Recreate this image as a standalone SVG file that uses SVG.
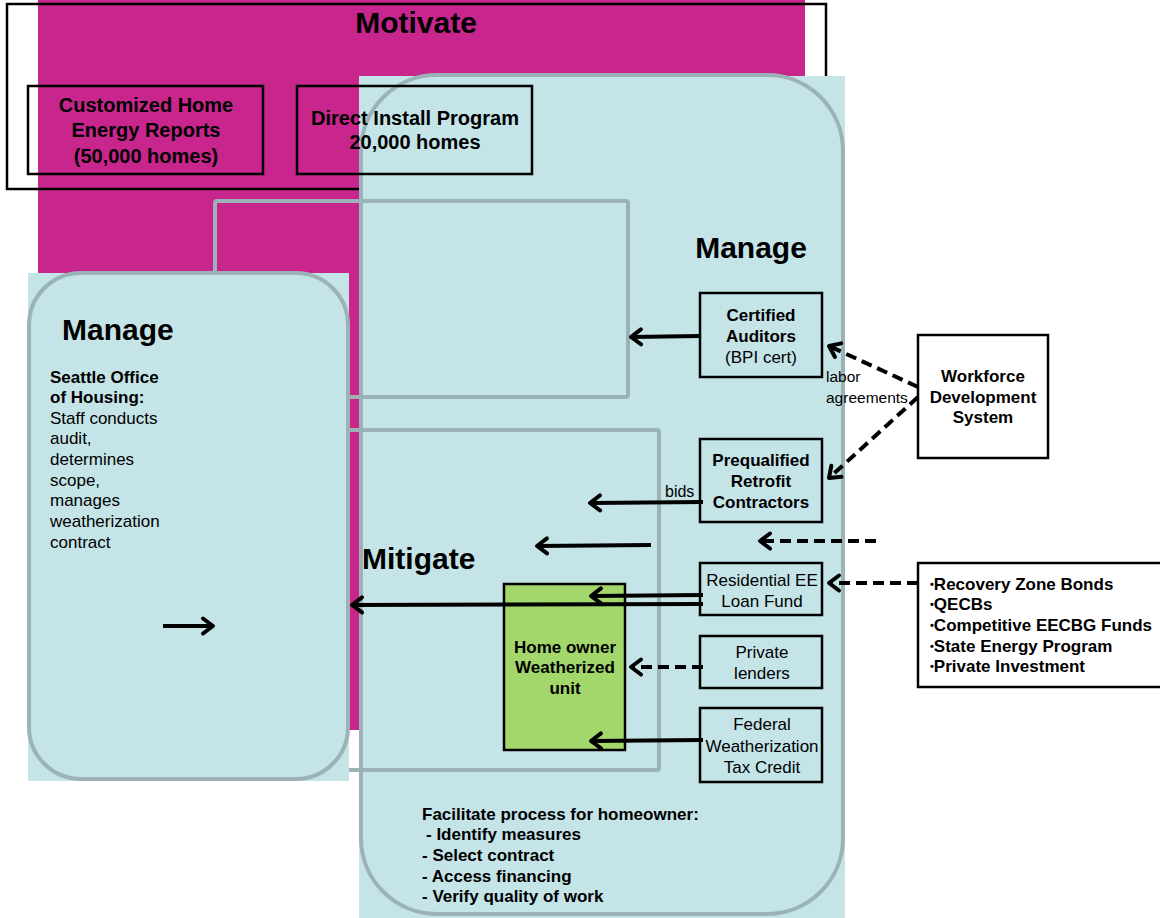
<svg xmlns="http://www.w3.org/2000/svg" width="1160" height="918" viewBox="0 0 1160 918">
<defs>
<style>
.t{font-family:"Liberation Sans",Arial,sans-serif;fill:#000;font-size:17px}
.b{font-weight:bold}
.m{text-anchor:middle}
.h{font-size:30px;font-weight:bold}
.box{stroke:#000;stroke-width:2.5}
.lb{fill:#C4E4E7}
.pb{fill:none;stroke:#9BB3B7;stroke-width:4}
.arr{stroke:#000;stroke-width:4;fill:none;marker-end:url(#ah)}
.dash{stroke-dasharray:11 6}
.bu{font-size:11px}
</style>
<marker id="ah" markerUnits="userSpaceOnUse" viewBox="-14 -11 16 22" markerWidth="16" markerHeight="22" refX="0" refY="0" orient="auto" overflow="visible">
<path d="M-10 -7.5 L0 0 L-10 7.5" fill="none" stroke="#000" stroke-width="4" stroke-linecap="round" stroke-linejoin="round"/>
</marker>
</defs>

<g id="background">
<rect x="38" y="0" width="767" height="730" fill="#C8268C"/>
</g>

<g id="motivate">
<rect x="7" y="4" width="819" height="185" fill="none" class="box"/>
<text class="t h m" x="416" y="33">Motivate</text>
</g>

<g id="panel-right">
<rect x="359" y="76" width="486" height="842" class="lb"/>
<rect x="361" y="75" width="482" height="839" rx="76" class="pb"/>
</g>

<g id="manage-area">
<rect x="215" y="201" width="413" height="196" rx="2" class="pb"/>
<text class="t h m" x="751" y="258">Manage</text>
</g>

<g id="mitigate-area">
<rect x="215" y="430" width="444" height="340" rx="2" class="pb"/>
<text class="t h" x="362" y="569">Mitigate</text>
</g>

<g id="customized-reports">
<rect x="28" y="86" width="235" height="88" fill="none" class="box"/>
<text class="t b m" style="font-size:20px" x="146" y="112">Customized Home</text>
<text class="t b m" style="font-size:20px" x="146" y="137">Energy Reports</text>
<text class="t b m" style="font-size:20px" x="146" y="163">(50,000 homes)</text>
</g>

<g id="direct-install">
<rect x="297" y="86" width="235" height="88" fill="none" class="box"/>
<text class="t b m" style="font-size:20px" x="415" y="125">Direct Install Program</text>
<text class="t b m" style="font-size:20px" x="415" y="149">20,000 homes</text>
</g>

<g id="panel-left">
<rect x="28" y="273" width="321" height="508" class="lb"/>
<rect x="29" y="273" width="319" height="506" rx="52" class="pb"/>
<text class="t h" x="62" y="340">Manage</text>
<text class="t b" x="50" y="383">Seattle Office</text>
<text class="t b" x="50" y="403">of Housing:</text>
<text class="t" x="50" y="424">Staff conducts</text>
<text class="t" x="50" y="444">audit,</text>
<text class="t" x="50" y="465">determines</text>
<text class="t" x="50" y="486">scope,</text>
<text class="t" x="50" y="506">manages</text>
<text class="t" x="50" y="527">weatherization</text>
<text class="t" x="50" y="548">contract</text>
</g>

<g id="certified-auditors">
<rect x="700" y="293" width="122" height="84" class="box lb"/>
<text class="t b m" x="761" y="321">Certified</text>
<text class="t b m" x="761" y="342">Auditors</text>
<text class="t m" x="761" y="363">(BPI cert)</text>
</g>

<g id="workforce">
<rect x="918" y="335" width="130" height="123" fill="#fff" class="box"/>
<text class="t b m" x="983" y="382">Workforce</text>
<text class="t b m" x="983" y="403">Development</text>
<text class="t b m" x="983" y="423">System</text>
</g>

<g id="prequalified">
<rect x="700" y="439" width="122" height="83" class="box lb"/>
<text class="t b m" x="761" y="466">Prequalified</text>
<text class="t b m" x="761" y="487">Retrofit</text>
<text class="t b m" x="761" y="508">Contractors</text>
</g>

<g id="loan-fund">
<rect x="700" y="563" width="122" height="52" class="box lb"/>
<text class="t m" x="762" y="586">Residential EE</text>
<text class="t m" x="762" y="607">Loan Fund</text>
</g>

<g id="private-lenders">
<rect x="700" y="636" width="122" height="52" class="box lb"/>
<text class="t m" x="762" y="658">Private</text>
<text class="t m" x="762" y="679">lenders</text>
</g>

<g id="federal-credit">
<rect x="700" y="708" width="122" height="74" class="box lb"/>
<text class="t m" x="762" y="730">Federal</text>
<text class="t m" x="762" y="752">Weatherization</text>
<text class="t m" x="762" y="773">Tax Credit</text>
</g>

<g id="funds">
<rect x="918" y="563" width="260" height="124" fill="#fff" class="box"/>
<text class="t b" x="930" y="590"><tspan class="bu" dy="-2">•</tspan><tspan dy="2">Recovery Zone Bonds</tspan></text>
<text class="t b" x="930" y="610"><tspan class="bu" dy="-2">•</tspan><tspan dy="2">QECBs</tspan></text>
<text class="t b" x="930" y="631"><tspan class="bu" dy="-2">•</tspan><tspan dy="2">Competitive EECBG Funds</tspan></text>
<text class="t b" x="930" y="652"><tspan class="bu" dy="-2">•</tspan><tspan dy="2">State Energy Program</tspan></text>
<text class="t b" x="930" y="672"><tspan class="bu" dy="-2">•</tspan><tspan dy="2">Private Investment</tspan></text>
</g>

<g id="homeowner">
<rect x="504" y="584" width="121" height="166" fill="#A3D76B" class="box"/>
<text class="t b m" x="565" y="653">Home owner</text>
<text class="t b m" x="565" y="673">Weatherized</text>
<text class="t b m" x="565" y="694">unit</text>
</g>

<g id="facilitate">
<text class="t b" x="422" y="820">Facilitate process for homeowner:</text>
<text class="t b" x="426" y="840">- Identify measures</text>
<text class="t b" x="422" y="861">- Select contract</text>
<text class="t b" x="422" y="882">- Access financing</text>
<text class="t b" x="422" y="902">- Verify quality of work</text>
</g>

<g id="connectors">
<path class="arr" d="M700 336 L631 337"/>
<path class="arr" d="M703 502 L590 503"/>
<path class="arr" d="M651 545 L537 546"/>
<path class="arr dash" d="M876 541 L760 541"/>
<path class="arr dash" d="M918 387 L829 346"/>
<path class="arr dash" d="M918 397 L829 478"/>
<path class="arr dash" d="M918 583 L829 583"/>
<path class="arr" d="M703 595 L591 596"/>
<path class="arr" d="M703 604 L352 605"/>
<path class="arr dash" d="M703 667 L631 667"/>
<path class="arr" d="M703 740 L591 741"/>
<path class="arr" d="M163 626 L213 626"/>
<text class="t" style="font-size:15.5px" x="826" y="382">labor</text>
<text class="t" style="font-size:15.5px" x="826" y="403">agreements</text>
<text class="t" style="font-size:16px" x="665" y="497">bids</text>
</g>
</svg>
